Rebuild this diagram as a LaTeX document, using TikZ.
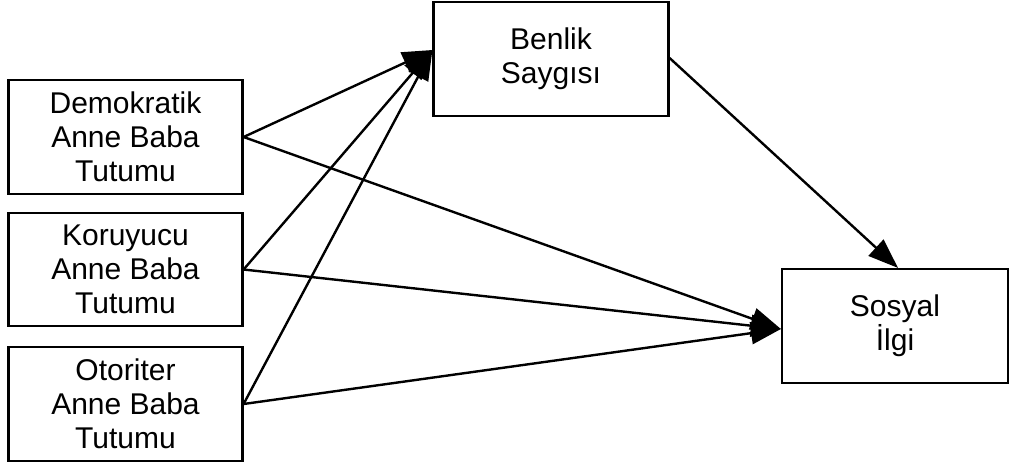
\documentclass[tikz,border=0pt]{standalone}
\usepackage{fontspec}
\setmainfont{Liberation Sans}
\usetikzlibrary{arrows.meta}
\begin{document}
\begin{tikzpicture}[x=1pt,y=-1pt,
  box/.style={draw, line width=2.2pt, minimum width=#1, align=center, inner sep=0pt,
    font=\fontsize{30}{34}\selectfont},
  link/.style={line width=2.4pt, -{Triangle[length=30pt,width=22pt]}}]
\useasboundingbox (0,0) rectangle (1010,466);
\node[box, minimum width=234pt, minimum height=114pt] (dem) at (125.5,137) {Demokratik\\Anne Baba\\Tutumu};
\node[box, minimum width=234pt, minimum height=113pt] (kor) at (125.5,269.5) {Koruyucu\\Anne Baba\\Tutumu};
\node[box, minimum width=234pt, minimum height=114pt] (oto) at (125.5,404) {Otoriter\\Anne Baba\\Tutumu};
\node[box, minimum width=235pt, minimum height=114pt] (ben) at (551,59) {Benlik\\Saygısı};
\node[box, minimum width=226pt, minimum height=114pt] (sos) at (895,326) {Sosyal\\İlgi};
\coordinate (benin) at ([yshift=9pt]ben.west);
\coordinate (sosin) at ([yshift=-3pt]sos.west);
\coordinate (benout) at ([yshift=1pt]ben.east);
\coordinate (sostop) at ([xshift=3pt]sos.north);
\draw[link] (dem.east) -- (benin);
\draw[link] (kor.east) -- (benin);
\draw[link] (oto.east) -- (benin);
\draw[link] (dem.east) -- (sosin);
\draw[link] (kor.east) -- (sosin);
\draw[link] (oto.east) -- (sosin);
\draw[link] (benout) -- (sostop);
\end{tikzpicture}
\end{document}
